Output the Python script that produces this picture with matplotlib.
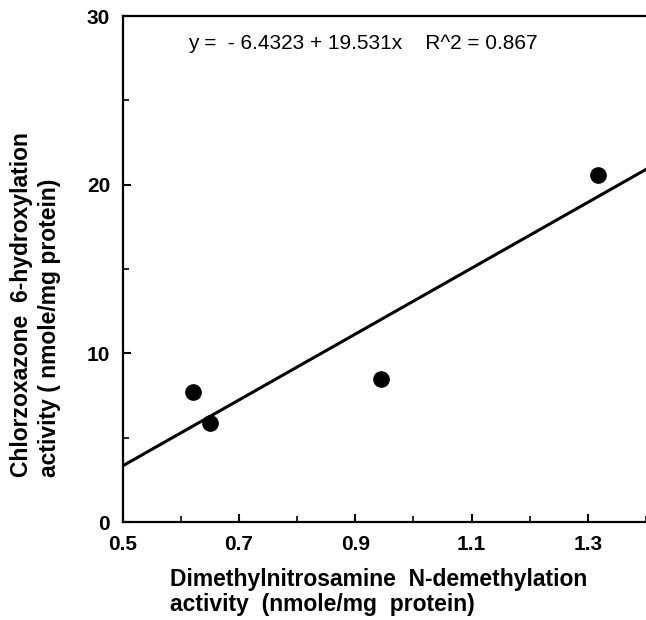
#!/usr/bin/env python3
"""
Chlorzoxazone 6-hydroxylation vs dimethylnitrosamine N-demethylation,
with the fitted regression line.
"""

import matplotlib
matplotlib.use("Agg")
import matplotlib.pyplot as plt
from matplotlib.ticker import MultipleLocator
import numpy as np

# Data
dmn_activity = [0.62, 0.65, 0.945, 1.317]      # nmole/mg protein
clz_activity = [7.7, 5.9, 8.5, 20.6]           # nmole/mg protein

# Published regression
intercept = -6.4323
slope = 19.531
r_squared = 0.867

x_ticks = [0.5, 0.7, 0.9, 1.1, 1.3]
y_ticks = [0, 10, 20, 30]

plt.rcParams['font.family'] = ['Liberation Sans', 'DejaVu Sans']

fig = plt.figure(figsize=(6.46, 6.2), dpi=100)
ax = fig.add_axes([0.190, 0.158, 0.81, 0.816])

# Regression line over the visible x range
x_line = np.array([0.5, 1.4])
ax.plot(x_line, intercept + slope * x_line, color='black', linewidth=2.2)

# Points
ax.plot(dmn_activity, clz_activity, 'o', color='black', markersize=11)

ax.set_xlim(0.5, 1.4)
ax.set_ylim(0, 30)
ax.set_xticks(x_ticks)
ax.set_xticklabels([f'{v:.1f}' for v in x_ticks])
ax.set_yticks(y_ticks)
ax.xaxis.set_minor_locator(MultipleLocator(0.1))
ax.yaxis.set_minor_locator(MultipleLocator(5))

ax.tick_params(which='major', direction='in', length=6, width=1.5,
               labelsize=15, pad=9)
ax.tick_params(which='minor', direction='in', length=4, width=1.2)
for lab in ax.get_xticklabels() + ax.get_yticklabels():
    lab.set_fontweight('bold')

for side in ['left', 'bottom', 'top']:
    ax.spines[side].set_linewidth(1.6)
ax.spines['right'].set_visible(False)

ax.text(0.612, 28.4,
        f'y =  - {abs(intercept):.4f} + {slope:.3f}x    R^2 = {r_squared:.3f}',
        fontsize=15, ha='left', va='center')

fig.text(170 / 646, 1 - 592 / 620,
         'Dimethylnitrosamine  N-demethylation\nactivity  (nmole/mg  protein)',
         fontsize=16.5, fontweight='bold', ha='left', va='center',
         multialignment='left', linespacing=1.1)

fig.text(35.5 / 646, 1 - 477 / 620,
         'Chlorzoxazone  6-hydroxylation\nactivity ( nmole/mg protein)',
         fontsize=16.5, fontweight='bold', rotation=90,
         ha='center', va='bottom', multialignment='left', linespacing=1.3)

plt.savefig('out.png', dpi=100)
